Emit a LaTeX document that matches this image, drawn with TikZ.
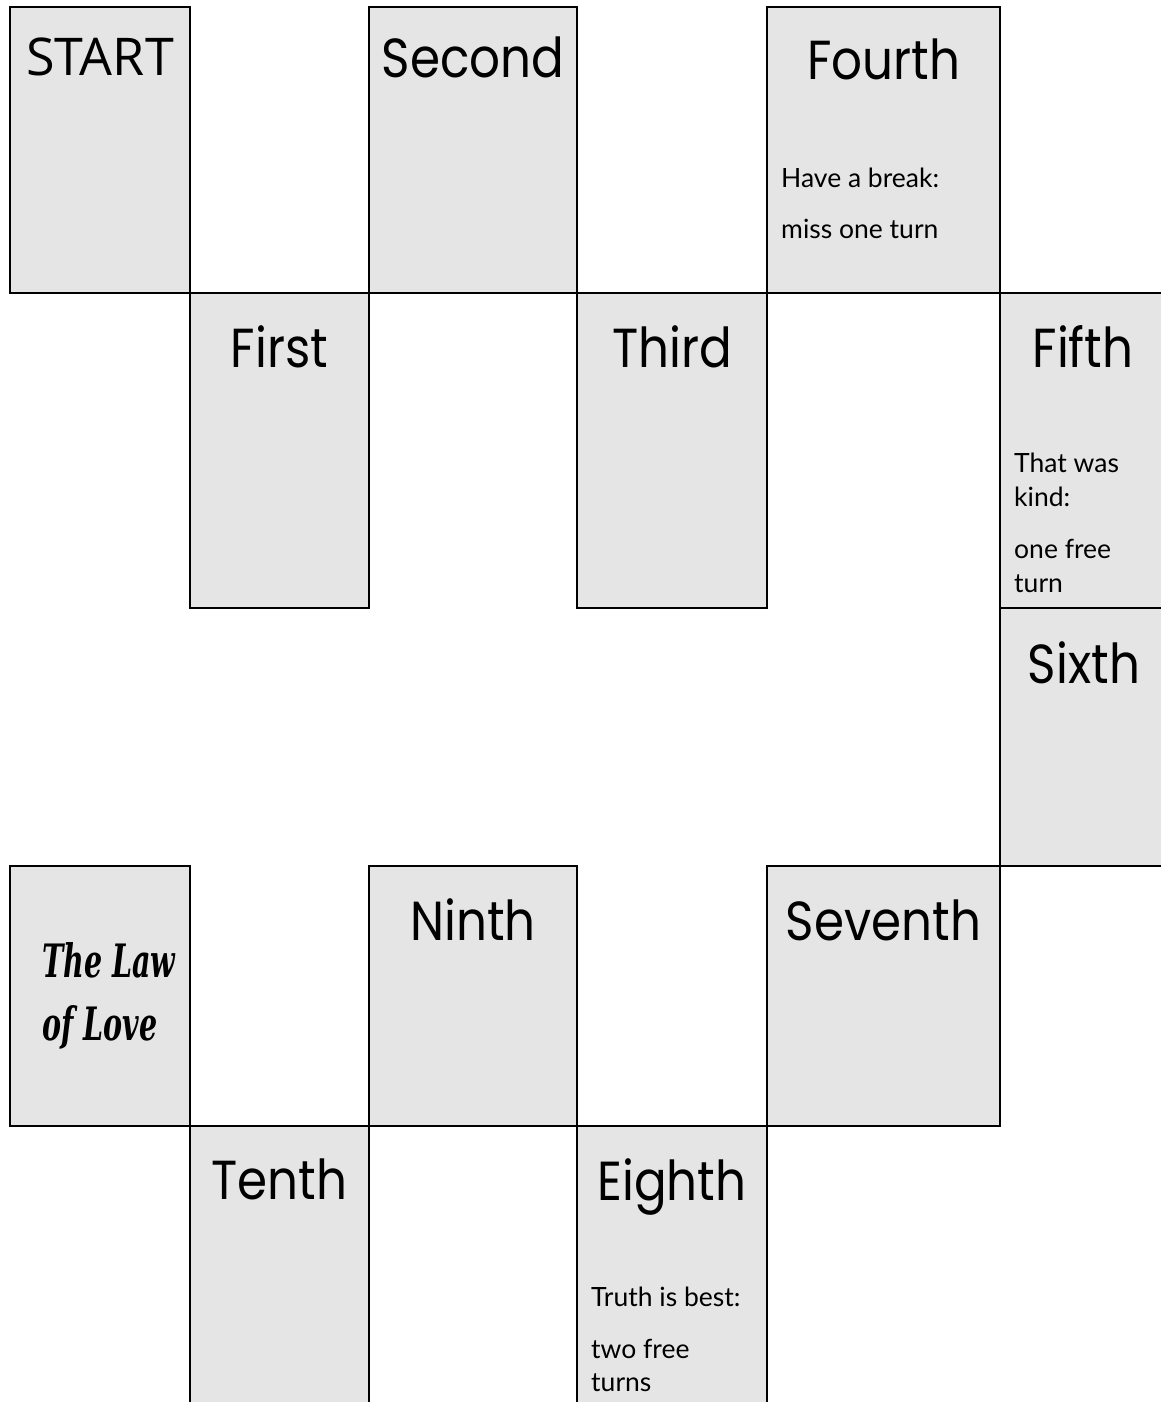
\documentclass[tikz,border=0pt]{standalone}
\usepackage{fontspec}
\setmainfont{Lato}
\newfontfamily\titlefont{Poppins}[FakeStretch=0.88]
\newfontfamily\startfont{Open Sans}
\newfontfamily\lawfont{DejaVu Serif}[FakeStretch=0.62]
\definecolor{cellgray}{HTML}{E5E5E5}
\tikzset{
  cell/.style={draw=black, line width=2.2pt, fill=cellgray, inner sep=0pt, outer sep=0pt, anchor=north west},
  title/.style={font=\titlefont\fontsize{55}{60}\selectfont, anchor=base, inner sep=0pt},
  starttitle/.style={font=\startfont\fontsize{52}{60}\selectfont, anchor=base, inner sep=0pt},
  note/.style={font=\fontsize{26.5}{30}\selectfont, anchor=base west, inner sep=0pt},
  lawtext/.style={font=\lawfont\bfseries\itshape\fontsize{46}{50}\selectfont, anchor=base west, inner sep=0pt}
}
\begin{document}
\begin{tikzpicture}[x=1pt,y=-1pt]
\useasboundingbox (0,0) rectangle (1161,1402);
\clip (0,0) rectangle (1161,1402);
% cells
\node[cell, minimum width=180pt, minimum height=286pt] (start) at (10,7) {};
\node[cell, minimum width=208pt, minimum height=286pt] (second) at (369,7) {};
\node[cell, minimum width=233pt, minimum height=286pt] (fourth) at (767,7) {};
\node[cell, minimum width=179pt, minimum height=315pt] (first) at (190,293) {};
\node[cell, minimum width=190pt, minimum height=315pt] (third) at (577,293) {};
\node[cell, minimum width=170pt, minimum height=315pt] (fifth) at (1000,293) {};
\node[cell, minimum width=170pt, minimum height=258pt] (sixth) at (1000,608) {};
\node[cell, minimum width=180pt, minimum height=260pt] (law) at (10,866) {};
\node[cell, minimum width=208pt, minimum height=260pt] (ninth) at (369,866) {};
\node[cell, minimum width=233pt, minimum height=260pt] (seventh) at (767,866) {};
\node[cell, minimum width=179pt, minimum height=300pt] (tenth) at (190,1126) {};
\node[cell, minimum width=190pt, minimum height=300pt] (eighth) at (577,1126) {};
% titles
\node[starttitle] (tstart) at ([yshift=-69pt]start.north) {START};
\node[title] (tsecond) at ([yshift=-71pt]second.north) {Second};
\node[title] (tfourth) at ([yshift=-73pt]fourth.north) {Fourth};
\node[title] (tfirst) at ([yshift=-74pt]first.north) {First};
\node[title] (tthird) at ([yshift=-74pt]third.north) {Third};
\node[title] (tfifth) at ([xshift=-2pt,yshift=-74pt]fifth.north) {Fifth};
\node[title] (tsixth) at ([xshift=-1pt,yshift=-75pt]sixth.north) {Sixth};
\node[title] (tninth) at ([yshift=-74pt]ninth.north) {Ninth};
\node[title] (tseventh) at ([yshift=-74pt]seventh.north) {Seventh};
\node[title] (ttenth) at ([yshift=-73pt]tenth.north) {Tenth};
\node[title] (teighth) at ([yshift=-74pt]eighth.north) {Eighth};
% notes
\node[note] (n4a) at ([xshift=14pt,yshift=-180pt]fourth.north west) {Have a break:};
\node[note] (n4b) at ([xshift=14pt,yshift=-231pt]fourth.north west) {miss one turn};
\node[note] (n5a) at ([xshift=14pt,yshift=-179pt]fifth.north west) {That was};
\node[note] (n5b) at ([xshift=14pt,yshift=-213pt]fifth.north west) {kind:};
\node[note] (n5c) at ([xshift=14pt,yshift=-265pt]fifth.north west) {one free};
\node[note] (n5d) at ([xshift=14pt,yshift=-299pt]fifth.north west) {turn};
\node[note] (n8a) at ([xshift=14pt,yshift=-180pt]eighth.north west) {Truth is best:};
\node[note] (n8b) at ([xshift=14pt,yshift=-232pt]eighth.north west) {two free};
\node[note] (n8c) at ([xshift=14pt,yshift=-265pt]eighth.north west) {turns};
% law of love
\node[lawtext] (lawa) at ([xshift=32pt,yshift=-111pt]law.north west) {The Law};
\node[lawtext] (lawb) at ([xshift=32pt,yshift=-174pt]law.north west) {of Love};
\end{tikzpicture}
\end{document}
